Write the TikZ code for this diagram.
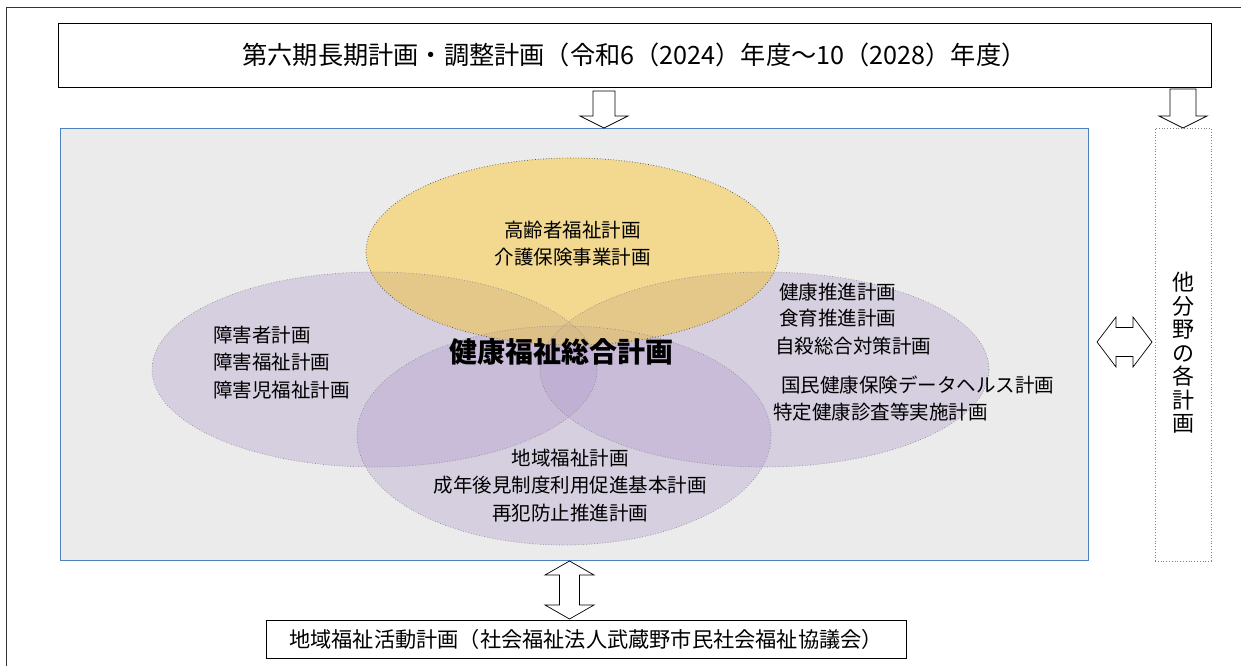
\documentclass[tikz,border=0pt]{standalone}
\usepackage{fontspec}
\setmainfont{Noto Sans CJK JP}
\definecolor{bggray}{RGB}{235,235,235}
\definecolor{lav}{RGB}{175,155,204}
\definecolor{yel}{RGB}{242,217,143}
\definecolor{tanc}{RGB}{214,185,135}
\definecolor{frameblue}{RGB}{79,129,189}
\begin{document}
\begin{tikzpicture}[x=1pt,y=-1pt,
  txt/.style={font=\fontsize{19.5}{27.5}\selectfont, inner sep=0pt, align=center},
  rtxt/.style={font=\fontsize{19.5}{27.5}\selectfont, inner sep=0pt, anchor=west},
  blockarrow/.style={draw=black, fill=white, line width=0.7pt, line join=miter},
  lavfill/.style={fill=lav, fill opacity=0.35},
  lavline/.style={draw=black!45, dotted, line width=0.7pt},
  boxstyle/.style={draw=black, line width=0.9pt, inner sep=0pt}]
\useasboundingbox (0,0) rectangle (1241,666);
\fill[white] (0,0) rectangle (1241,666);
% outer frame
\draw[line width=1.6pt, black!80] (6.5,666) -- (6.5,7.5) -- (1241,7.5);
% top plan box
\node[boxstyle, minimum width=1153pt, minimum height=64pt, font=\fontsize{25.2}{25.2}\selectfont] (plan) at (634.5,55) {第六期長期計画・調整計画（令和6（2024）年度～10（2028）年度）};
% main gray box
\node[draw=frameblue, fill=bggray, line width=0.8pt, minimum width=1028pt, minimum height=432pt, inner sep=0pt] (main) at (574,344) {};
% other plans box
\node[draw=black!50, dotted, line width=0.8pt, minimum width=56pt, minimum height=433pt, inner sep=0pt] (other) at (1183,344.5) {};
\node[font=\fontsize{22}{23.5}\selectfont, align=center, inner sep=0pt] (othertext) at (1183,353) {他\\分\\野\\の\\各\\計\\画};
% bottom activity box
\node[boxstyle, minimum width=640pt, minimum height=38pt, font=\fontsize{21.2}{21.2}\selectfont] (act) at (586,639) {地域福祉活動計画（社会福祉法人武蔵野市民社会福祉協議会）};
% ellipses
\fill[lavfill] (374.5,369.5) ellipse [x radius=222.5pt, y radius=97.5pt];
\fill[lavfill] (764.5,369.5) ellipse [x radius=224.5pt, y radius=97.5pt];
\fill[lavfill] (564,435.5) ellipse [x radius=207pt, y radius=109.5pt];
\fill[yel] (572.5,251.5) ellipse [x radius=206.5pt, y radius=93.5pt];
\begin{scope}
  \clip (572.5,251.5) ellipse [x radius=206.5pt, y radius=93.5pt];
  \fill[tanc, fill opacity=0.53] (374.5,369.5) ellipse [x radius=222.5pt, y radius=97.5pt];
  \fill[tanc, fill opacity=0.53] (764.5,369.5) ellipse [x radius=224.5pt, y radius=97.5pt];
  \fill[tanc, fill opacity=0.53] (564,435.5) ellipse [x radius=207pt, y radius=109.5pt];
\end{scope}
\draw[lavline] (374.5,369.5) ellipse [x radius=222.5pt, y radius=97.5pt];
\draw[lavline] (764.5,369.5) ellipse [x radius=224.5pt, y radius=97.5pt];
\draw[lavline] (564,435.5) ellipse [x radius=207pt, y radius=109.5pt];
\draw[draw=black!70, dotted, line width=0.7pt] (572.5,251.5) ellipse [x radius=206.5pt, y radius=93.5pt];
% texts in ellipses
\node[txt] (elder) at (572.5,243.5) {高齢者福祉計画\\介護保険事業計画};
\node[txt, align=left, anchor=west] (disab) at (213,362.5) {障害者計画\\障害福祉計画\\障害児福祉計画};
\node[rtxt] (h1) at (779,292) {健康推進計画};
\node[rtxt] (h2) at (779,318.5) {食育推進計画};
\node[rtxt] (h3) at (775,346) {自殺総合対策計画};
\node[rtxt] (h4) at (781,385) {国民健康保険データヘルス計画};
\node[rtxt] (h5) at (773,412.5) {特定健康診査等実施計画};
\node[txt] (comm) at (570,485.5) {地域福祉計画\\成年後見制度利用促進基本計画\\再犯防止推進計画};
\node[font=\fontsize{28}{28}\selectfont\bfseries, inner sep=0pt] (title) at (561,352) {健康福祉総合計画};
% block arrows
\draw[blockarrow] (593,91) -- (615,91) -- (615,116) -- (628,116) -- (604,128) -- (580,116) -- (593,116) -- cycle;
\draw[blockarrow] (1170,89) -- (1196,89) -- (1196,116) -- (1207,116) -- (1183,128) -- (1159,116) -- (1170,116) -- cycle;
\draw[blockarrow] (1097,342) -- (1116,317) -- (1116,327.5) -- (1133,327.5) -- (1133,317) -- (1152,342) -- (1133,367) -- (1133,356.5) -- (1116,356.5) -- (1116,367) -- cycle;
\draw[blockarrow] (569.5,561) -- (594,575) -- (579.5,575) -- (579.5,605) -- (594,605) -- (569.5,619) -- (545,605) -- (559.5,605) -- (559.5,575) -- (545,575) -- cycle;
\end{tikzpicture}
\end{document}
